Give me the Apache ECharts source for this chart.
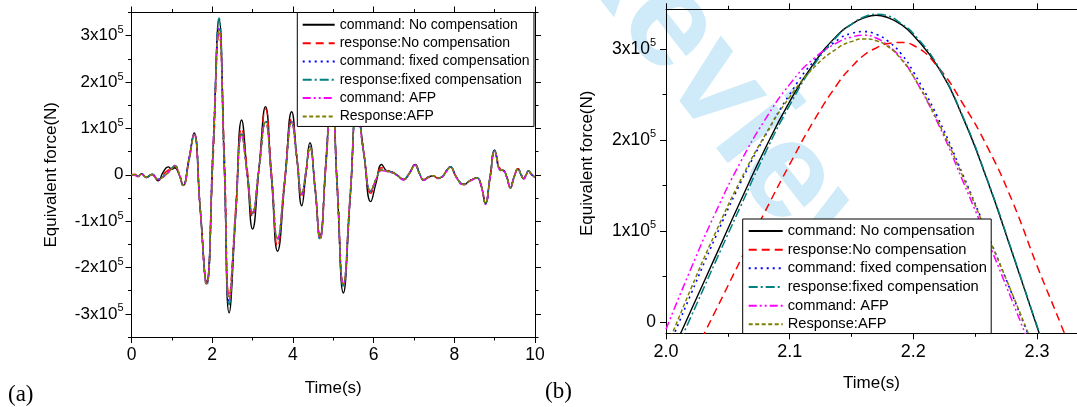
<!DOCTYPE html>
<html><head><meta charset="utf-8">
<script src="https://cdn.jsdelivr.net/npm/echarts@6/dist/echarts.min.js"></script>
<style>html,body{margin:0;padding:0;background:#fff}#c{width:1077px;height:407px}</style>
</head><body><div id="c"></div>
<script>
// ---------- DATA ----------
const seriesNames = ['command: No compensation','response:No compensation','command: fixed compensation','response:fixed compensation','command: AFP','Response:AFP'];

// Panel (a): time (s) and force values in units of 1e5 N
const tA = [0,0.08,0.16,0.25,0.37,0.51,0.66,0.78,0.91,1.0,
 1.07,1.18,1.28,1.42,1.55,1.70,1.86,2.02,2.17,2.30,
 2.42,2.58,2.73,2.87,3.00,3.16,3.32,3.47,3.62,3.80,
 3.97,4.10,4.22,4.32,4.42,4.55,4.67,4.82,4.96,5.10,
 5.25,5.42,5.59,5.76,5.93,6.06,6.20,6.33,6.46,6.60,
 6.74,6.88,7.03,7.14,7.24,7.36,7.48,7.58,7.69,7.80,
 7.90,8.05,8.23,8.40,8.56,8.67,8.77,8.89,9.00,9.14,
 9.22,9.30,9.39,9.48,9.58,9.65,9.72,9.78,9.84,9.92,10.0];
const aCmdNo = [0,0.00,-0.04,0.02,-0.06,0.01,-0.13,0.05,0.17,0.12,
 0.15,0.00,-0.23,0.33,0.90,-0.70,-2.30,0.50,3.35,0.20,
 -2.98,-0.90,1.18,0.00,-1.17,0.15,1.47,-0.09,-1.65,-0.15,
 1.36,0.35,-0.67,0.00,0.69,-0.30,-1.32,0.30,1.90,-0.30,
 -2.55,-0.50,1.50,0.45,-0.58,-0.18,0.22,0.08,0.06,-0.02,
 -0.11,0.03,0.22,0.02,-0.12,-0.05,-0.02,-0.07,-0.05,0.08,
 0.17,-0.05,-0.21,-0.12,-0.07,-0.25,-0.62,-0.02,0.53,0.10,
 0.09,-0.05,-0.28,-0.05,0.13,0.01,-0.09,0.00,0.08,0.00,-0.05];
const aRespNo = [0,0.01,-0.03,0.01,-0.05,0.01,-0.11,0.00,0.10,0.13,
 0.19,0.02,-0.22,0.28,0.87,-0.70,-2.33,0.30,3.05,0.50,
 -2.62,-0.75,1.00,0.10,-0.90,0.10,1.42,0.05,-1.55,-0.05,
 1.20,0.35,-0.50,0.00,0.62,-0.25,-1.35,0.20,1.85,-0.20,
 -2.40,-0.45,1.45,0.45,-0.40,-0.10,0.15,0.10,0.05,-0.02,
 -0.10,0.02,0.20,0.03,-0.10,-0.05,-0.02,-0.07,-0.05,0.07,
 0.17,-0.04,-0.20,-0.12,-0.07,-0.24,-0.60,-0.05,0.50,0.12,
 0.09,-0.04,-0.27,-0.06,0.13,0.02,-0.08,0.00,0.08,0.01,-0.05];
const aCmdFixed = [0,-0.01,-0.03,0.01,-0.05,0.00,-0.10,-0.05,0.05,0.14,
 0.20,0.02,-0.23,0.30,0.87,-0.70,-2.37,0.55,3.19,0.20,
 -2.72,-0.85,0.87,0.00,-0.82,0.15,1.15,-0.05,-1.38,-0.10,
 1.14,0.35,-0.42,0.05,0.60,-0.30,-1.38,0.30,1.85,-0.30,
 -2.37,-0.45,1.45,0.45,-0.35,-0.10,0.10,0.08,0.05,-0.02,
 -0.10,0.02,0.21,0.02,-0.11,-0.05,-0.02,-0.07,-0.05,0.08,
 0.17,-0.05,-0.21,-0.12,-0.07,-0.25,-0.62,-0.03,0.52,0.10,
 0.09,-0.05,-0.28,-0.05,0.13,0.01,-0.09,0.00,0.08,0.00,-0.05];
const aRespFixed = [0,0.00,-0.04,0.02,-0.05,0.01,-0.11,-0.04,0.05,0.14,
 0.20,0.02,-0.23,0.30,0.88,-0.70,-2.38,0.45,3.38,0.25,
 -2.80,-0.85,0.88,0.00,-0.84,0.15,1.16,-0.05,-1.40,-0.10,
 1.15,0.35,-0.43,0.05,0.61,-0.30,-1.40,0.30,1.90,-0.30,
 -2.40,-0.45,1.45,0.45,-0.36,-0.10,0.10,0.08,0.05,-0.02,
 -0.10,0.02,0.21,0.02,-0.11,-0.05,-0.02,-0.07,-0.05,0.08,
 0.17,-0.05,-0.21,-0.12,-0.07,-0.25,-0.62,-0.03,0.52,0.10,
 0.09,-0.05,-0.28,-0.05,0.13,0.01,-0.09,0.00,0.08,0.00,-0.05];
const aCmdAFP = [0,-0.01,-0.04,0.01,-0.06,0.00,-0.11,-0.05,0.05,0.14,
 0.20,0.01,-0.24,0.32,0.87,-0.72,-2.36,0.60,3.15,0.15,
 -2.70,-0.88,0.86,-0.02,-0.82,0.14,1.14,-0.07,-1.37,-0.12,
 1.13,0.33,-0.42,0.04,0.59,-0.32,-1.38,0.28,1.85,-0.32,
 -2.36,-0.47,1.43,0.43,-0.35,-0.11,0.09,0.07,0.04,-0.03,
 -0.11,0.01,0.21,0.01,-0.12,-0.06,-0.03,-0.08,-0.06,0.07,
 0.16,-0.06,-0.22,-0.13,-0.08,-0.26,-0.64,-0.05,0.50,0.09,
 0.08,-0.06,-0.29,-0.06,0.12,0.00,-0.10,-0.01,0.07,-0.01,-0.06];
const aRespAFP = [0,0.00,-0.03,0.01,-0.05,0.00,-0.10,-0.05,0.05,0.13,
 0.19,0.02,-0.23,0.30,0.86,-0.70,-2.35,0.50,3.11,0.20,
 -2.68,-0.86,0.86,0.00,-0.81,0.14,1.13,-0.05,-1.36,-0.10,
 1.12,0.34,-0.41,0.05,0.59,-0.30,-1.37,0.30,1.85,-0.30,
 -2.36,-0.45,1.44,0.44,-0.34,-0.10,0.10,0.08,0.05,-0.02,
 -0.10,0.02,0.20,0.02,-0.11,-0.05,-0.02,-0.07,-0.05,0.08,
 0.16,-0.05,-0.21,-0.12,-0.07,-0.25,-0.61,-0.03,0.51,0.10,
 0.09,-0.05,-0.28,-0.05,0.13,0.01,-0.09,0.00,0.08,0.00,-0.05];

// Panel (b): zoom around the main peak, values in units of 1e5 N
const tB = [2.00,2.02,2.04,2.06,2.08,2.10,2.12,2.14,2.15,2.16,2.17,2.18,2.19,2.20,2.22,2.24,2.26,2.28,2.30,2.32,2.34];
const bCmdNo     = [-0.48,0.12,0.72,1.32,1.90,2.42,2.85,3.17,3.27,3.34,3.37,3.34,3.27,3.15,2.80,2.25,1.55,0.76,-0.05,-0.85,-1.60];
const bRespNo    = [-0.95,-0.42,0.12,0.67,1.21,1.73,2.22,2.64,2.80,2.93,3.01,3.06,3.07,3.04,2.80,2.40,1.92,1.33,0.62,-0.05,-0.75];
const bCmdFixed  = [-0.35,0.30,0.93,1.52,2.04,2.50,2.87,3.11,3.17,3.19,3.16,3.08,2.95,2.75,2.24,1.62,0.97,0.30,-0.38,-1.05,-1.70];
const bRespFixed = [-0.55,0.05,0.66,1.26,1.85,2.38,2.83,3.16,3.27,3.35,3.38,3.36,3.28,3.17,2.81,2.26,1.56,0.77,-0.04,-0.84,-1.60];
const bCmdAFP    = [-0.08,0.58,1.20,1.75,2.22,2.61,2.90,3.08,3.13,3.15,3.12,3.03,2.90,2.70,2.18,1.55,0.90,0.23,-0.45,-1.10,-1.75];
const bRespAFP   = [-0.30,0.36,0.98,1.55,2.05,2.47,2.80,3.02,3.08,3.11,3.09,3.02,2.89,2.70,2.20,1.60,0.96,0.31,-0.36,-1.02,-1.70];

// Tick values
const xMajorA = [0,2,4,6,8,10];
const xMinorA = [0,1,2,3,4,5,6,7,8,9,10];
const yMajorA = [-300000,-200000,-100000,0,100000,200000,300000];
const yMinorA = [-350000,-300000,-250000,-200000,-150000,-100000,-50000,0,50000,100000,150000,200000,250000,300000,350000];
const xMajorB = [2.0,2.1,2.2,2.3];
const xMinorB = [2.0,2.05,2.1,2.15,2.2,2.25,2.3];
const yMajorB = [0,100000,200000,300000];
const yMinorB = [0,50000,100000,150000,200000,250000,300000];

// ---------- STYLE ----------
const FONT = 'Liberation Sans, Arial, sans-serif';
const colors = ['#000000','#ff0000','#0000ff','#008080','#ff00ff','#808000'];
const dashes = ['solid',[8,5],[2,4],[9,3,2,3],[8,3,2,3,2,3],[4,2.5]];
const widths = [1.4,1.5,1.6,1.5,1.5,1.5];

function sciLabel(v){
  if (Math.abs(v) < 1) return '{n|0}';
  const m = Math.round(v/1e5);
  return '{n|' + m + 'x10}{s|5}';
}
function richFor(size){
  return { n:{fontSize:size, fontFamily:FONT, color:'#000', lineHeight:22},
           s:{fontSize:11, fontFamily:FONT, color:'#000', lineHeight:11, verticalAlign:'top'} };
}

function axisSet(dim, grid, min, max, majors, minors, labelCfg, nameCfg){
  const pos = dim === 'x' ? ['bottom','top'] : ['left','right'];
  const mk = (p, ticks, len, line, label, name) => Object.assign({
    type:'value', gridIndex:grid, min:min, max:max, position:p,
    axisLine:{show:line, onZero:false, lineStyle:{color:'#000', width:1}},
    axisTick:{show:true, inside:false, length:len, customValues:ticks, lineStyle:{color:'#000', width:1}},
    axisLabel: label ? label : {show:false},
    splitLine:{show:false}, minorTick:{show:false}, axisPointer:{show:false}, silent:true
  }, name || {});
  return [
    mk(pos[0], majors, 6, true, labelCfg, nameCfg),
    mk(pos[0], minors, 3.5, false, null, null),
    mk(pos[1], majors, 6, true, null, null),
    mk(pos[1], minors, 3.5, false, null, null)
  ];
}

const xAxes = [].concat(
  axisSet('x', 0, 0, 10, xMajorA, xMinorA,
    {show:true, customValues:xMajorA, fontFamily:FONT, fontSize:17.5, color:'#000', margin:9},
    {name:'Time(s)', nameLocation:'middle', nameGap:43, nameTextStyle:{fontFamily:FONT, fontSize:17, color:'#000'}}),
  axisSet('x', 1, 2.0, 2.3324, xMajorB, xMinorB,
    {show:true, customValues:xMajorB, fontFamily:FONT, fontSize:18, color:'#000', margin:10, formatter:v=>v.toFixed(1)},
    {name:'Time(s)', nameLocation:'middle', nameGap:41.5, nameTextStyle:{fontFamily:FONT, fontSize:17, color:'#000'}})
);
const yAxes = [].concat(
  axisSet('y', 0, -350000, 350000, yMajorA, yMinorA,
    {show:true, customValues:yMajorA, formatter:sciLabel, rich:richFor(17), margin:8},
    {name:'Equivalent force(N)', nameLocation:'middle', nameGap:72, nameTextStyle:{fontFamily:FONT, fontSize:17, color:'#000'}}),
  axisSet('y', 1, -12500, 343500, yMajorB, yMinorB,
    {show:true, customValues:yMajorB, formatter:sciLabel, rich:richFor(17.5), margin:10},
    {name:'Equivalent force(N)', nameLocation:'middle', nameGap:70.5, nameTextStyle:{fontFamily:FONT, fontSize:17, color:'#000', padding:[0,0,0,16]}})
);

const aVals = [aCmdNo,aRespNo,aCmdFixed,aRespFixed,aCmdAFP,aRespAFP];
const bVals = [bCmdNo,bRespNo,bCmdFixed,bRespFixed,bCmdAFP,bRespAFP];
const series = [];
function addSeries(t, vals, axisIdx){
  vals.forEach((v, k) => {
    series.push({
      type:'line', name:seriesNames[k], xAxisIndex:axisIdx, yAxisIndex:axisIdx,
      data: t.map((x,i)=>[x, v[i]*1e5]),
      symbol:'none', showSymbol:false, smooth:0.5, clip:true, silent:true,
      color: colors[k],
      lineStyle:{color:colors[k], width:widths[k], type:dashes[k]},
      itemStyle:{color:colors[k]}, z:3
    });
  });
}
addSeries(tA, aVals, 0);
addSeries(tB, bVals, 4);

const chart = echarts.init(document.getElementById('c'), null, {renderer:'canvas'});
chart.setOption({
  animation:false,
  backgroundColor:'#ffffff',
  grid:[
    {left:131.5, right:542, top:12.5, bottom:70, containLabel:false},
    {left:666, right:-10, top:9.3, bottom:73.7, containLabel:false}
  ],
  xAxis:xAxes,
  yAxis:yAxes,
  legend:[
    {data:seriesNames, orient:'vertical', left:297.3, top:12.5, itemWidth:32, itemHeight:12, itemGap:2.33,
     padding:[4.3,4.4,2,4.4], backgroundColor:'#fff', borderColor:'#000', borderWidth:1, borderRadius:0,
     selectedMode:false, z:10, itemStyle:{opacity:0}, textStyle:{fontFamily:FONT, fontSize:14, color:'#000', lineHeight:16}},
    {data:seriesNames, orient:'vertical', left:742.7, top:219, itemWidth:34, itemHeight:12, itemGap:2.16,
     padding:[3.75,4.3,1,5], backgroundColor:'#fff', borderColor:'#000', borderWidth:1, borderRadius:0,
     selectedMode:false, z:10, itemStyle:{opacity:0}, textStyle:{fontFamily:FONT, fontSize:14.7, color:'#000', lineHeight:16.5}}
  ],
  graphic:[
    {type:'text', x:530, y:-40, rotation:-52*Math.PI/180, z:-10, silent:true,
     style:{text:'Review', font:'bold 138px Liberation Sans, Arial, sans-serif', fill:'#cfeaf9', textAlign:'left', textVerticalAlign:'bottom'}},
    {type:'text', left:8, top:383, silent:true, style:{text:'(a)', font:'23px Liberation Serif, Times New Roman, serif', fill:'#000'}},
    {type:'text', left:545, top:380, silent:true, style:{text:'(b)', font:'23px Liberation Serif, Times New Roman, serif', fill:'#000'}}
  ],
  series:series
});
</script></body></html>
